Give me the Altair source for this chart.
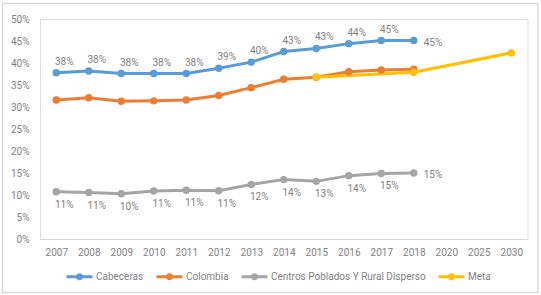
import altair as alt
import pandas as pd

years = ["2007", "2008", "2009", "2010", "2011", "2012", "2013", "2014", "2015",
         "2016", "2017", "2018", "2020", "2025", "2030"]
cabeceras = [37.8, 38.2, 37.6, 37.6, 37.6, 38.8, 40.2, 42.6, 43.3, 44.4, 45.1, 45.1]
colombia = [31.6, 32.1, 31.3, 31.4, 31.6, 32.6, 34.4, 36.3, 36.75, 38.0, 38.4, 38.6]
centros = [10.75, 10.55, 10.3, 10.9, 11.07, 10.98, 12.4, 13.5, 13.1, 14.4, 14.9, 15.0]
meta_years = ["2015", "2018", "2030"]
meta = [36.75, 37.9, 42.3]

series_names = ["Cabeceras", "Colombia", "Centros Poblados Y Rural Disperso", "Meta"]
colors = ["#5B9BD5", "#ED7D31", "#A5A5A5", "#FFC000"]

rows = []
for name, vals in [(series_names[0], cabeceras), (series_names[1], colombia), (series_names[2], centros)]:
    for y, v in zip(years, vals):
        rows.append({"year": y, "serie": name, "value": v / 100})
for y, v in zip(meta_years, meta):
    rows.append({"year": y, "serie": series_names[3], "value": v / 100})
df = pd.DataFrame(rows)

FONT = "Roboto"
FS = 10
TXT = "#7f7f7f"

legend_path = "M-1,0H1M0.16,0A0.16,0.16,0,1,1,-0.16,0A0.16,0.16,0,1,1,0.16,0Z"

x = alt.X("year:O", sort=years, scale=alt.Scale(domain=years, padding=0.5),
          axis=alt.Axis(title=None, labelAngle=0, ticks=False, tickSize=0, domainColor="#d9d9d9",
                        labelPadding=8, labelFont=FONT, labelFontSize=FS, labelColor=TXT, grid=False))
y = alt.Y("value:Q", scale=alt.Scale(domain=[0, 0.5], nice=False),
          axis=alt.Axis(title=None, values=[i / 100 for i in range(0, 51, 5)], format=".0%",
                        grid=False, domain=False, ticks=False, tickSize=0, labelPadding=11,
                        labelFont=FONT, labelFontSize=FS, labelColor=TXT))
color = alt.Color("serie:N", sort=series_names,
                  scale=alt.Scale(domain=series_names, range=colors),
                  legend=alt.Legend(title=None, orient="none", direction="horizontal",
                                    legendX=25, legendY=243, symbolType=legend_path,
                                    symbolSize=676, symbolStrokeWidth=3, labelOffset=2,
                                    columnPadding=6, labelFont=FONT, labelFontSize=FS,
                                    labelColor=TXT, labelLimit=0))

base = alt.Chart(df)
lines = base.mark_line(strokeWidth=3).encode(x=x, y=y, color=color, order=alt.Order("year:O"))
points = base.mark_circle(size=55, opacity=1).encode(
    x=x, y=y, color=alt.Color("serie:N", scale=alt.Scale(domain=series_names, range=colors), legend=None))

lab = base.transform_calculate(label="format(datum.value, '.0%')")
above = lab.transform_filter(
    "datum.serie == 'Cabeceras' && datum.year != '2018'"
).mark_text(dx=8, dy=-11, font=FONT, fontSize=FS, color=TXT).encode(x=x, y=y, text="label:N")
below = lab.transform_filter(
    "datum.serie == 'Centros Poblados Y Rural Disperso' && datum.year != '2018'"
).mark_text(dx=8, dy=13, font=FONT, fontSize=FS, color=TXT).encode(x=x, y=y, text="label:N")
right = lab.transform_filter(
    "(datum.serie == 'Cabeceras' || datum.serie == 'Centros Poblados Y Rural Disperso') && datum.year == '2018'"
).mark_text(dx=10, dy=2, align="left", font=FONT, fontSize=FS, color=TXT).encode(x=x, y=y, text="label:N")

frame = alt.Chart(alt.Data(values=[{}])).mark_rect(fill=None, stroke="#d9d9d9", strokeWidth=1.5).encode(
    x=alt.value(-37.5), x2=alt.value(498), y=alt.value(-15.5), y2=alt.value(273.5))

chart = alt.layer(frame, lines, points, above, below, right).properties(
    width=487.5, height=220,
    padding={"left": 40, "top": 19, "right": 13.5, "bottom": 56},
    autosize=alt.AutoSizeParams(type="none"),
).configure_view(stroke=None).configure(background="white")

chart.save("out.html", embed_options={"renderer": "svg", "actions": False})
